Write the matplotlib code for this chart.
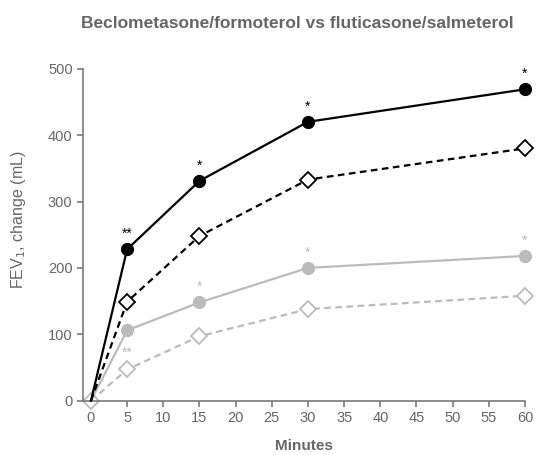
import matplotlib
matplotlib.use("Agg")
import matplotlib.pyplot as plt

# data
minutes = [0, 5, 15, 30, 60]
bf_solid = [0, 228, 331, 420, 469]      # black, filled circles
bf_dashed = [0, 149, 248, 333, 380]     # black, open diamonds
fs_solid = [0, 106, 148, 200, 218]      # grey, filled circles
fs_dashed = [0, 47, 97, 138, 158]       # grey, open diamonds

# significance marks: (x, y of point, label)
black_stars = [(5, 228, "**"), (15, 331, "*"), (30, 420, "*"), (60, 469, "*")]
grey_stars = [(15, 148, "*"), (30, 200, "*"), (60, 218, "*")]
grey_stars_below = [(5, 106, "**")]

xticks = list(range(0, 61, 5))
yticks = [0, 100, 200, 300, 400, 500]

plt.rcParams['font.family'] = ['Liberation Sans', 'DejaVu Sans']

txt = "#666666"
axc = "#7a7a7a"
grey = "#bbbbbb"

fig = plt.figure(figsize=(5.4, 4.55), dpi=100)
ax = fig.add_axes([83/540, 54.3/455, (525-83)/540, 332/455])

# only the grey dashed series shows a marker at the origin
skip0 = [1, 2, 3, 4]
ax.plot(minutes, fs_dashed, color=grey, lw=1.6, ls=(0, (3, 2)), marker="D", ms=8,
        mfc="white", mec=grey, mew=1.3, clip_on=False, zorder=2)
ax.plot(minutes, fs_solid, color=grey, lw=1.6, marker="o", ms=8.5, markevery=skip0,
        mfc=grey, mec=grey, clip_on=False, zorder=2)
ax.plot(minutes, bf_dashed, color="black", lw=1.6, ls=(0, (3, 2)), marker="D", ms=8,
        markevery=skip0, mfc="white", mec="black", mew=1.3, clip_on=False, zorder=3)
ax.plot(minutes, bf_solid, color="black", lw=1.6, marker="o", ms=8.5, markevery=skip0,
        mfc="black", mec="black", clip_on=False, zorder=4)

for x, y, s in black_stars:
    ax.annotate(s, (x, y), xytext=(0, 6), textcoords="offset points", ha="center",
                va="bottom", fontsize=10, color="black")
for x, y, s in grey_stars:
    ax.annotate(s, (x, y), xytext=(0, 6), textcoords="offset points", ha="center",
                va="bottom", fontsize=10, color=grey)
for x, y, s in grey_stars_below:
    ax.annotate(s, (x, y), xytext=(0, -11), textcoords="offset points", ha="center",
                va="top", fontsize=10, color=grey)

ax.set_xlim(-1.1, 60)
ax.set_ylim(0, 500)
ax.set_xticks(xticks)
ax.set_yticks(yticks)
ax.spines['top'].set_visible(False)
ax.spines['right'].set_visible(False)
for sp in ['left', 'bottom']:
    ax.spines[sp].set_color(axc)
    ax.spines[sp].set_linewidth(1.2)
ax.tick_params(colors=axc, labelcolor=txt, labelsize=10.5, length=4, width=1.2)

ax.set_xlabel("Minutes", fontsize=11, fontweight="bold", color=txt, labelpad=10)
fig.text(19/540, 1 - 220/455, "FEV$_1$, change (mL)", rotation=90, ha="center",
         va="center", fontsize=11.5, color=txt)
fig.text(297/540, 1 - 24/455, "Beclometasone/formoterol vs fluticasone/salmeterol",
         ha="center", va="center", fontsize=12.5, fontweight="bold", color=txt)

fig.savefig("out.png", dpi=100)
